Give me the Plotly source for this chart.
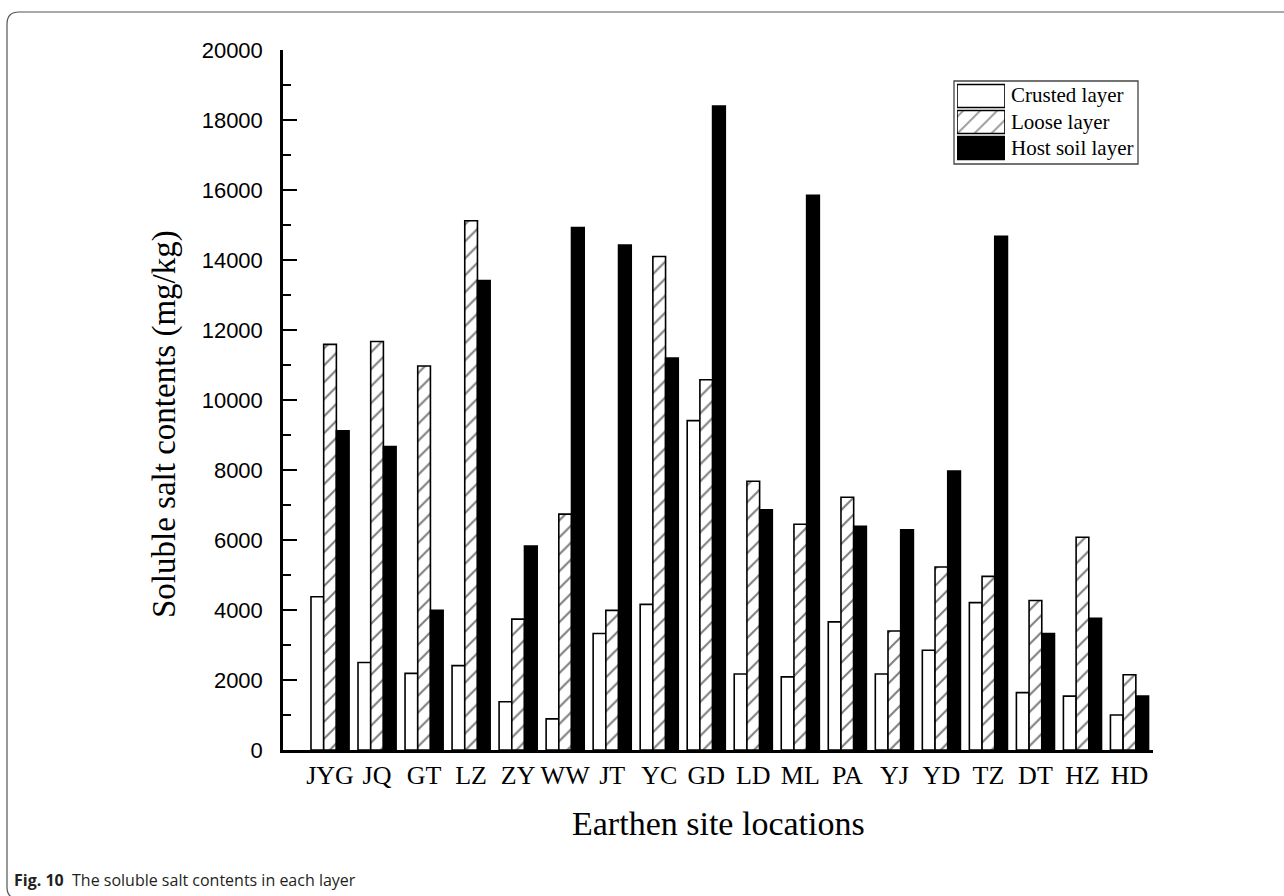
import plotly.graph_objects as go

# Soluble salt contents (mg/kg) per earthen site, by layer
sites = ["JYG", "JQ", "GT", "LZ", "ZY", "WW", "JT", "YC", "GD",
         "LD", "ML", "PA", "YJ", "YD", "TZ", "DT", "HZ", "HD"]
crusted = [4380, 2500, 2190, 2410, 1380, 890, 3330, 4160, 9410,
           2170, 2090, 3660, 2170, 2850, 4210, 1640, 1540, 1000]
loose = [11590, 11670, 10970, 15120, 3740, 6740, 3990, 14100, 10580,
         7680, 6450, 7220, 3400, 5230, 4960, 4270, 6080, 2150]
host = [9120, 8670, 3990, 13410, 5830, 14930, 14430, 11200, 18400,
        6860, 15850, 6390, 6290, 7970, 14680, 3330, 3760, 1540]

layer_names = ["Crusted layer", "Loose layer", "Host soil layer"]
y_ticks = [0, 2000, 4000, 6000, 8000, 10000, 12000, 14000, 16000, 18000, 20000]
y_tick_text = [str(v) for v in y_ticks]

W, H = 1284, 896
L, R, T, B = 283, 1153, 50, 750   # plot area in pixels

def px(x):
    return (x - L) / (R - L)

def py(y):
    return (B - y) / (B - T)

SERIF = "Liberation Serif, Times New Roman, serif"
SANS = "Liberation Sans, Arial, sans-serif"
OUTLINE = dict(color="black", width=1.6)

fig = go.Figure()
fig.add_trace(go.Bar(
    x=sites, y=crusted, name=layer_names[0],
    marker=dict(color="white", line=OUTLINE),
))
fig.add_trace(go.Bar(
    x=sites, y=loose, name=layer_names[1],
    marker=dict(color="white", line=OUTLINE,
                pattern=dict(shape="/", fgcolor="black", bgcolor="white",
                             size=12, solidity=0.17)),
))
fig.add_trace(go.Bar(
    x=sites, y=host, name=layer_names[2],
    marker=dict(color="black", line=OUTLINE),
))

# Legend swatches: a small horizontal bar chart on its own axes
fig.add_trace(go.Bar(
    x=[1, 1, 1], y=layer_names, orientation="h", width=0.88,
    xaxis="x2", yaxis="y2", hoverinfo="skip",
    marker=dict(color=["white", "white", "black"],
                line=dict(color="black", width=1.6),
                pattern=dict(shape=["", "/", ""], fgcolor="black",
                             size=12, solidity=0.17)),
))

fig.update_layout(
    width=W, height=H,
    margin=dict(l=L, r=W - R, t=T, b=H - B, pad=0),
    paper_bgcolor="white", plot_bgcolor="white",
    barmode="group", bargap=0.19, bargroupgap=0,
    showlegend=False,
    xaxis=dict(
        type="category", range=[-1.0, 17.5],
        showline=True, linecolor="black", linewidth=2.5,
        ticks="", showgrid=False, zeroline=False,
        tickfont=dict(family=SERIF, size=26, color="black"),
        ticklabelstandoff=0,
    ),
    yaxis=dict(
        range=[0, 20000], tickvals=y_ticks, ticktext=y_tick_text,
        showline=True, linecolor="black", linewidth=2.5,
        ticks="inside", ticklen=14, tickwidth=2, tickcolor="black",
        minor=dict(dtick=1000, ticks="inside", ticklen=8, tickwidth=2,
                   tickcolor="black", showgrid=False),
        showgrid=False, zeroline=False,
        tickfont=dict(family=SANS, size=22, color="black"),
        ticklabelstandoff=13,
    ),
    xaxis2=dict(domain=[px(957), px(1005)], range=[0, 1], anchor="y2",
                visible=False, fixedrange=True),
    yaxis2=dict(domain=[py(161), py(83)], anchor="x2", type="category",
                autorange="reversed", visible=False, fixedrange=True),
)

annotations = [
    dict(text="Soluble salt contents (mg/kg)", textangle=-90,
         x=px(164), y=py(424), xref="paper", yref="paper",
         xanchor="center", yanchor="middle",
         showarrow=False, font=dict(family=SERIF, size=33, color="black")),
    dict(text="Earthen site locations",
         x=px(718), y=py(823), xref="paper", yref="paper",
         xanchor="center", yanchor="middle",
         showarrow=False, font=dict(family=SERIF, size=34, color="black")),
    dict(text="<b>Fig. 10</b>  The soluble salt contents in each layer",
         x=px(12), y=py(880), xref="paper", yref="paper",
         xanchor="left", yanchor="middle", showarrow=False,
         font=dict(family="Open Sans, sans-serif", size=16, color="#231f20")),
]
for name, yc in zip(layer_names, [95, 122, 148]):
    annotations.append(dict(
        text=name, x=px(1009), y=py(yc), xref="paper", yref="paper",
        xanchor="left", yanchor="middle", showarrow=False,
        font=dict(family=SERIF, size=21, color="black")))
fig.update_layout(annotations=annotations)

# Legend frame
fig.add_shape(type="rect", xref="paper", yref="paper",
              x0=px(954), x1=px(1138), y0=py(164), y1=py(81),
              line=dict(color="#444", width=1.3), fillcolor="rgba(0,0,0,0)")

# Panel border with rounded left corners
r = 12
path = (f"M {px(1290)},{py(12)} L {px(7 + r)},{py(12)} "
        f"Q {px(7)},{py(12)} {px(7)},{py(12 + r)} "
        f"L {px(7)},{py(899 - r)} Q {px(7)},{py(899)} {px(7 + r)},{py(899)} "
        f"L {px(1290)},{py(899)}")
fig.add_shape(type="path", path=path, xref="paper", yref="paper",
              line=dict(color="#555", width=1.2), layer="below")

fig.write_html("out.html")
